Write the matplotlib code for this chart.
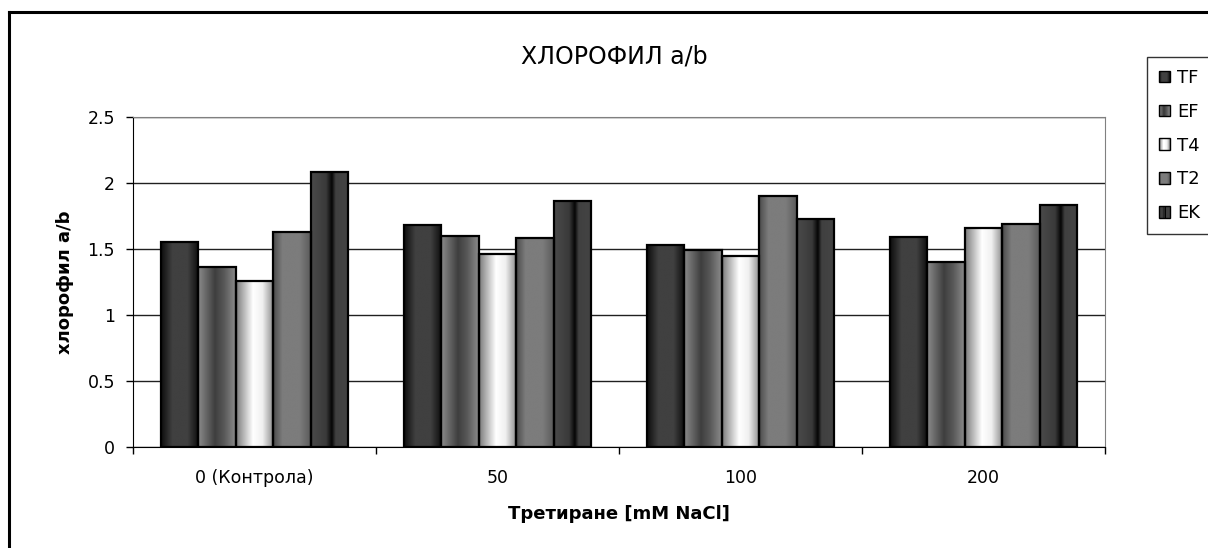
import numpy as np
import matplotlib
matplotlib.use("Agg")
import matplotlib.pyplot as plt
from matplotlib.colors import LinearSegmentedColormap
from matplotlib.patches import Rectangle
from matplotlib.lines import Line2D
from matplotlib.legend_handler import HandlerBase

plt.rcParams['font.family'] = ['DejaVu Sans']

categories = ['0 (Контрола)', '50', '100', '200']
series = ['TF', 'EF', 'T4', 'T2', 'EK']
tf = [1.55, 1.68, 1.53, 1.59]
ef = [1.36, 1.60, 1.49, 1.40]
t4 = [1.26, 1.46, 1.45, 1.66]
t2 = [1.63, 1.58, 1.90, 1.69]
ek = [2.08, 1.86, 1.73, 1.83]
values = [tf, ef, t4, t2, ek]

# horizontal shading of each series (cylinder-like fill)
shades = [
    [(0, '#0c0c0c'), (0.3, '#404040'), (0.7, '#404040'), (1, '#0c0c0c')],
    [(0, '#8c8c8c'), (0.45, '#3e3e3e'), (0.7, '#5a5a5a'), (1, '#8c8c8c')],
    [(0, '#7a7a7a'), (0.45, '#ffffff'), (0.7, '#f0f0f0'), (1, '#8a8a8a')],
    [(0, '#4a4a4a'), (0.25, '#7c7c7c'), (0.7, '#7c7c7c'), (1, '#5a5a5a')],
    [(0, '#4a4a4a'), (0.4, '#3a3a3a'), (0.55, '#050505'), (0.65, '#404040'), (1, '#444444')],
]
cmaps = [LinearSegmentedColormap.from_list(s, c) for s, c in zip(series, shades)]
grad = np.linspace(0, 1, 256).reshape(1, -1)

fig = plt.figure(figsize=(12.08, 5.48), dpi=100)
ax = fig.add_axes([133 / 1208, 101 / 548, 972 / 1208, 330 / 548])

w = 1 / 6.5
x = np.arange(len(categories))
for j, (name, vals) in enumerate(zip(series, values)):
    bars = ax.bar(x + (j - 2) * w, vals, w, facecolor='none', edgecolor='black',
                  linewidth=1.6, zorder=4, label=name)
    for b in bars:
        x0, h = b.get_x(), b.get_height()
        im = ax.imshow(grad, cmap=cmaps[j], extent=[x0, x0 + w, 0, h],
                       aspect='auto', zorder=3, interpolation='bilinear')
        im.set_clip_path(b)

ax.set_xlim(-0.5, 3.5)
ax.set_ylim(0, 2.5)
ax.set_yticks(np.arange(0, 2.51, 0.5))
ax.set_yticklabels(['0', '0.5', '1', '1.5', '2', '2.5'])
ax.yaxis.grid(True, color='#202020', linewidth=1)
ax.set_axisbelow(True)
ax.set_xticks(x)
ax.set_xticklabels(categories)
ax.set_xticks(np.arange(-0.5, 3.6, 1), minor=True)
ax.tick_params(axis='x', which='major', length=0, pad=16, labelsize=12.5)
ax.tick_params(axis='x', which='minor', length=5, width=1, direction='out')
ax.tick_params(axis='y', length=5, width=1, direction='out', labelsize=12.5, pad=8)

for side in ['top', 'right']:
    ax.spines[side].set_color('#808080')
for side in ['left', 'bottom']:
    ax.spines[side].set_color('black')

ax.set_ylabel('хлорофил a/b', fontsize=13, fontweight='bold', labelpad=10)
ax.set_xlabel('Третиране [mM NaCl]', fontsize=13, fontweight='bold', labelpad=13)
fig.text(614 / 1208, 1 - 57 / 548, 'ХЛОРОФИЛ a/b', fontsize=17,
         ha='center', va='center')

# chart area border
fig.add_artist(Line2D([9 / 1208, 9 / 1208], [0, 1 - 12 / 548], transform=fig.transFigure,
                      color='black', linewidth=2.2))
fig.add_artist(Line2D([9 / 1208, 1], [1 - 12 / 548, 1 - 12 / 548], transform=fig.transFigure,
                      color='black', linewidth=2.2))


class GradientHandler(HandlerBase):
    def create_artists(self, legend, orig, xdescent, ydescent, width, height,
                       fontsize, trans):
        cmap = cmaps[series.index(orig.get_label())]
        n = 10
        arts = []
        for k in range(n):
            arts.append(Rectangle((-xdescent + width * k / n, -ydescent), width / n, height,
                                  facecolor=cmap((k + 0.5) / n), edgecolor='none',
                                  transform=trans))
        arts.append(Rectangle((-xdescent, -ydescent), width, height, facecolor='none',
                              edgecolor='black', linewidth=1, transform=trans))
        return arts


handles = [Rectangle((0, 0), 1, 1, label=s) for s in series]
leg = fig.legend(handles=handles, loc='upper left',
                 bbox_to_anchor=(1147 / 1208, 1 - 57 / 548),
                 handler_map={Rectangle: GradientHandler()},
                 fontsize=13, frameon=True, fancybox=False, edgecolor='black',
                 handlelength=0.65, handleheight=0.6, handletextpad=0.35,
                 labelspacing=0.88, borderpad=0.65, borderaxespad=0)
leg.get_frame().set_linewidth(1)

fig.savefig('out.png', dpi=100)
